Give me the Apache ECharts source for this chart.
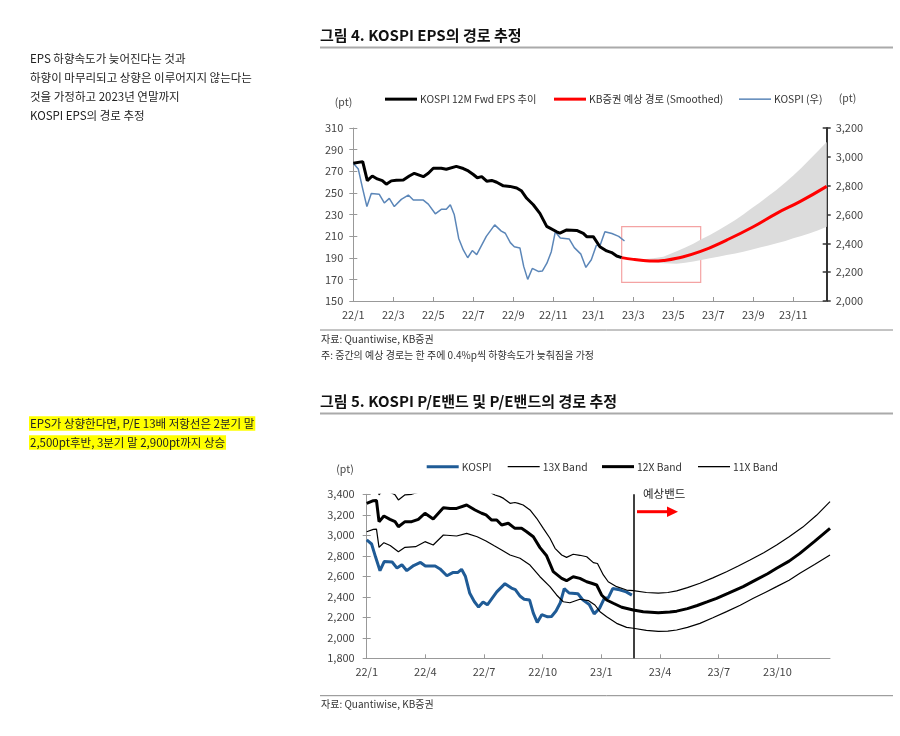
<!DOCTYPE html>
<html><head><meta charset="utf-8">
<script src="https://cdn.jsdelivr.net/npm/echarts@6/dist/echarts.min.js"></script>
<style>html,body{margin:0;padding:0;background:#fff}#c{width:900px;height:736px}</style>
</head><body><div id="c"></div>
<script>
const FONT = '"Noto Sans CJK KR", "Noto Sans", sans-serif';

// ---------- Figure 4 data (x = months since 2022/1) ----------
const epsActual = [
 [0,277.4],[0.47,278.9],[0.7,261.3],[0.95,265.6],[1.2,262.9],[1.45,261.3],[1.65,258],[1.9,261.1],
 [2.15,261.7],[2.5,262],[2.8,265.6],[3.05,268.1],[3.5,265],[3.75,268.1],[4.0,272.8],[4.4,272.8],
 [4.65,271.8],[5.15,274.5],[5.5,272.5],[5.75,270.3],[6.0,267],[6.2,264],[6.42,265],[6.67,260.8],
 [6.92,261.5],[7.17,259.8],[7.5,256.5],[7.83,256],[8.17,254.5],[8.4,252],[8.67,245],[9.0,239],
 [9.33,231],[9.5,225],[9.67,219],[10.17,214],[10.33,212.8],[10.67,215.7],[11.17,215.3],[11.5,212.6],
 [11.67,209.5],[12.0,209.5],[12.33,200.2],[12.67,196.3],[12.92,194.8],[13.17,191.6],[13.42,190.1]
];
const epsPath = [
 [13.42,190.1],[14.0,188.5],[14.5,187.5],[15.0,187],[15.5,187.5],[16.17,189.5],[17.33,195.6],
 [18.67,206.4],[20.0,218.7],[21.17,231.1],[22.33,241.9],[23.67,256]
];
const epsBandLower = [
 [13.42,190.1],[14.0,188.3],[14.5,187],[15.0,185.8],[15.5,185],[16.17,184.5],[16.6,185.3],[17.0,186.5],
 [17.4,188],[17.83,189.5],[18.25,191],[18.67,192.5],[19.1,194],[19.5,195.6],[19.9,197.5],[20.33,199.5],
 [20.75,201.4],[21.17,203.4],[21.6,205.6],[22.0,208],[22.4,210.2],[22.83,212.6],[23.25,215.5],[23.67,218.7]
];
const epsBandUpper = [
 [13.42,190.1],[14.0,189],[14.5,188.7],[15.0,189.5],[15.5,191],[16.17,196],[16.6,199.5],[17.0,203],
 [17.4,207],[17.83,211],[18.25,215.5],[18.67,220],[19.1,225],[19.5,230],[19.9,235.5],[20.33,241],
 [20.75,247],[21.17,253],[21.6,259.5],[22.0,266],[22.4,273],[22.83,281],[23.25,289],[23.67,297]
];
const forecastBox = [[13.42,218.7],[17.37,167.3]];

// KOSPI index (shared by both figures)
const kospi = [
 [0,2955],[0.25,2915],[0.45,2790],[0.68,2655],[0.9,2745],[1.3,2740],[1.55,2680],[1.8,2712],
 [2.05,2655],[2.4,2705],[2.75,2735],[3.0,2700],[3.5,2700],[3.75,2672],[4.1,2605],[4.4,2636],
 [4.65,2636],[4.85,2668],[5.05,2598],[5.27,2434],[5.5,2354],[5.72,2300],[5.95,2350],[6.17,2322],
 [6.65,2448],[7.07,2528],[7.4,2485],[7.6,2470],[7.85,2405],[8.05,2376],[8.33,2368],[8.52,2240],
 [8.72,2150],[8.95,2226],[9.25,2205],[9.45,2208],[9.68,2262],[9.9,2342],[10.1,2480],[10.35,2437],
 [10.8,2430],[11.05,2370],[11.38,2325],[11.63,2233],[11.9,2286],[12.15,2385],[12.35,2390],
 [12.58,2480],[12.93,2468],[13.27,2448],[13.56,2416]
];

// ---------- Figure 5 data ----------
const pe13 = [
 [0,3590],[0.34,3615],[0.5,3620],[0.63,3395],[0.88,3450],[1.19,3420],[1.45,3395],[1.62,3345],
 [1.96,3395],[2.3,3400],[2.64,3420],[2.98,3480],[3.4,3420],[3.92,3540],[4.26,3530],[4.6,3530],
 [5.11,3570],[5.54,3520],[5.88,3480],[6.1,3465],[6.39,3410],[6.56,3393],[6.82,3377],[7.0,3360],
 [7.33,3312],[7.58,3320],[7.75,3312],[8.0,3296],[8.35,3247],[8.69,3166],[9.03,3068],[9.37,2971],
 [9.63,2873],[9.97,2808],[10.22,2785],[10.56,2815],[10.9,2805],[11.25,2791],[11.59,2733],[11.8,2725],
 [12.1,2613],[12.35,2547],[12.78,2499],[13.29,2466],[13.63,2460],[14.3,2442],[14.91,2436],[15.4,2442],
 [15.85,2458],[16.4,2490],[17.04,2532],[17.7,2585],[18.4,2645],[19.0,2700],[19.6,2759],[20.3,2830],
 [20.96,2905],[21.6,2985],[22.3,3080],[23.0,3195],[23.69,3328]
];
const pe12 = [
 [0,3312],[0.34,3338],[0.5,3340],[0.63,3133],[0.88,3188],[1.19,3156],[1.45,3133],[1.62,3084],
 [1.96,3133],[2.3,3133],[2.64,3156],[2.98,3215],[3.4,3159],[3.92,3269],[4.26,3262],[4.6,3262],
 [5.11,3296],[5.54,3247],[5.88,3215],[6.1,3199],[6.39,3149],[6.65,3150],[6.9,3100],[7.24,3117],
 [7.58,3068],[7.92,3068],[8.18,3035],[8.52,2986],[8.86,2880],[9.2,2800],[9.54,2645],[9.97,2580],
 [10.22,2557],[10.56,2596],[10.9,2580],[11.25,2547],[11.5,2532],[11.76,2515],[12.01,2418],
 [12.27,2369],[12.61,2337],[13.04,2298],[13.63,2271],[14.14,2255],[14.91,2245],[15.5,2252],
 [15.85,2260],[16.4,2285],[16.9,2315],[17.4,2350],[17.89,2385],[18.5,2435],[19.25,2499],[19.9,2565],
 [20.5,2625],[20.96,2678],[21.6,2748],[22.15,2824],[22.9,2940],[23.69,3068]
];
const pe11 = [
 [0,3035],[0.34,3058],[0.5,3060],[0.63,2883],[0.88,2928],[1.2,2900],[1.62,2840],[1.96,2883],
 [2.5,2889],[2.98,2938],[3.4,2905],[3.92,3003],[4.6,2993],[5.11,3019],[5.65,2986],[6.1,2944],
 [6.5,2900],[6.9,2857],[7.33,2808],[7.84,2776],[8.35,2710],[8.86,2596],[9.37,2499],[9.71,2418],
 [10.05,2352],[10.39,2342],[10.9,2376],[11.33,2363],[11.67,2320],[11.93,2255],[12.27,2206],
 [12.78,2141],[13.29,2102],[13.63,2093],[14.3,2072],[14.91,2062],[15.4,2065],[15.85,2076],[16.4,2102],
 [17.04,2141],[17.7,2195],[18.4,2255],[19.1,2318],[19.77,2385],[20.4,2445],[20.96,2499],[21.6,2562],
 [22.15,2629],[22.9,2715],[23.69,2808]
];
const bandStartMonth = 13.63;

// axis tick settings
const epsAxis = {min:150, max:310, interval:20};
const kospiAxisTop = {min:2000, max:3200, interval:200};
const kospiAxisBottom = {min:1800, max:3400, interval:200};

function monthLabel(v){
  const m = Math.round(v);
  return (22 + Math.floor(m/12)) + '/' + (m % 12 + 1);
}
function comma(v){ return Number(v).toLocaleString('en-US'); }

const labelStyle = {color:'#444', fontSize:11, fontFamily:FONT};
const txt = (x,y,text,extra) => Object.assign({type:'text', x:x, y:y, silent:true,
  style:Object.assign({text:text, font:'11.5px '+FONT, fill:'#222', verticalAlign:'middle'}, (extra||{}))});
const hline = (x1,x2,y,color,w) => ({type:'line', silent:true, shape:{x1:x1,y1:y,x2:x2,y2:y}, style:{stroke:color, lineWidth:w}});

function lg(name, left, top, h){
  return {data:[name], left:left, top:top, itemWidth:32, itemHeight:h, icon:'rect', itemGap:0,
    selectedMode:false, textStyle:{color:'#333', fontSize:10.3, fontFamily:FONT, padding:[0,0,0,-2]}};
}

const chart = echarts.init(document.getElementById('c'), null, {renderer:'canvas'});
chart.setOption({
  animation:false,
  backgroundColor:'#fff',
  textStyle:{fontFamily:FONT},
  legend:[
    lg('KOSPI 12M Fwd EPS 추이', 380, 89, 3),
    lg('KB증권 예상 경로 (Smoothed)', 549, 89, 3),
    lg('KOSPI (우)', 734, 89, 1.5),
    lg('KOSPI', 421.7, 456.5, 3),
    lg('13X Band', 502.7, 456.5, 1.3),
    lg('12X Band', 597, 456.5, 3),
    lg('11X Band', 693, 456.5, 1.3)
  ],
  grid:[
    {left:353.3, top:128, width:473.4, height:173},
    {left:366.7, top:494.3, width:463.3, height:164}
  ],
  xAxis:[
    {gridIndex:0, type:'value', min:0, max:23.67, interval:2,
     axisLine:{lineStyle:{color:'#999'}}, axisTick:{inside:true, length:4, lineStyle:{color:'#999'}},
     axisLabel:Object.assign({margin:8, formatter:monthLabel, showMaxLabel:false}, labelStyle),
     splitLine:{show:false}},
    {gridIndex:1, type:'value', min:0, max:23.69, interval:3,
     axisLine:{lineStyle:{color:'#999'}}, axisTick:{inside:true, length:4, lineStyle:{color:'#999'}},
     axisLabel:Object.assign({margin:8, formatter:monthLabel, showMaxLabel:false}, labelStyle),
     splitLine:{show:false}}
  ],
  yAxis:[
    Object.assign({gridIndex:0, type:'value', position:'left',
     axisLine:{show:true, lineStyle:{color:'#999'}}, axisTick:{show:true, length:4, lineStyle:{color:'#999'}},
     axisLabel:Object.assign({margin:10}, labelStyle), splitLine:{show:false}}, epsAxis),
    Object.assign({gridIndex:0, type:'value', position:'right',
     axisLine:{show:true, lineStyle:{color:'#333', width:2}}, axisTick:{show:true, length:4, lineStyle:{color:'#333', width:1.5}},
     axisLabel:Object.assign({margin:9, formatter:comma}, labelStyle), splitLine:{show:false}}, kospiAxisTop),
    Object.assign({gridIndex:0, type:'value', position:'left',
     axisLine:{show:false}, axisTick:{show:true, inside:true, length:4, lineStyle:{color:'#999'}},
     axisLabel:{show:false}, splitLine:{show:false}}, epsAxis),
    Object.assign({gridIndex:0, type:'value', position:'right',
     axisLine:{show:false}, axisTick:{show:true, inside:true, length:4, lineStyle:{color:'#333', width:1.5}},
     axisLabel:{show:false}, splitLine:{show:false}}, kospiAxisTop),
    Object.assign({gridIndex:1, type:'value', position:'left',
     axisLine:{show:true, lineStyle:{color:'#999'}}, axisTick:{show:true, length:4, lineStyle:{color:'#999'}},
     axisLabel:Object.assign({margin:12, formatter:comma}, labelStyle), splitLine:{show:false}}, kospiAxisBottom),
    Object.assign({gridIndex:1, type:'value', position:'left',
     axisLine:{show:false}, axisTick:{show:true, inside:true, length:4, lineStyle:{color:'#999'}},
     axisLabel:{show:false}, splitLine:{show:false}}, kospiAxisBottom)
  ],
  series:[
    {name:'band', type:'custom', xAxisIndex:0, yAxisIndex:0, silent:true, z:1,
     data:[epsBandUpper[0]], encode:{x:0, y:1},
     renderItem:function(params, api){
       const pts = epsBandUpper.map(p => api.coord(p))
         .concat(epsBandLower.slice().reverse().map(p => api.coord(p)));
       return {type:'polygon', shape:{points:pts}, style:{fill:'#dcdcdc'}};
     }},
    {name:'KOSPI (우)', type:'line', xAxisIndex:0, yAxisIndex:1, data:kospi, symbol:'none',
     itemStyle:{color:'#5b86b8'}, lineStyle:{color:'#5b86b8', width:1.5}, z:3},
    {name:'KOSPI 12M Fwd EPS 추이', type:'line', xAxisIndex:0, yAxisIndex:0, data:epsActual, symbol:'none',
     itemStyle:{color:'#000'}, lineStyle:{color:'#000', width:3}, z:4},
    {name:'KB증권 예상 경로 (Smoothed)', type:'line', xAxisIndex:0, yAxisIndex:0, data:epsPath, symbol:'none',
     smooth:true, itemStyle:{color:'#ff0000'}, lineStyle:{color:'#ff0000', width:3}, z:5,
     markArea:{silent:true, itemStyle:{color:'rgba(0,0,0,0)', borderColor:'#f4a3a3', borderWidth:1.2},
       data:[[{coord:forecastBox[0]},{coord:forecastBox[1]}]]}},

    {name:'KOSPI', type:'line', xAxisIndex:1, yAxisIndex:4, data:kospi, symbol:'none',
     itemStyle:{color:'#1f5b96'}, lineStyle:{color:'#1f5b96', width:3}, z:3},
    {name:'13X Band', type:'line', xAxisIndex:1, yAxisIndex:4, data:pe13, symbol:'none',
     itemStyle:{color:'#000'}, lineStyle:{color:'#000', width:1.2}, z:4},
    {name:'12X Band', type:'line', xAxisIndex:1, yAxisIndex:4, data:pe12, symbol:'none',
     itemStyle:{color:'#000'}, lineStyle:{color:'#000', width:3}, z:4,
     markLine:{silent:true, symbol:'none', label:{show:false}, lineStyle:{color:'#000', width:1.5, type:'solid'},
       data:[{xAxis:bandStartMonth}]}},
    {name:'11X Band', type:'line', xAxisIndex:1, yAxisIndex:4, data:pe11, symbol:'none',
     itemStyle:{color:'#000'}, lineStyle:{color:'#000', width:1.2}, z:4}
  ],
  graphic:[
    txt(320, 35, '그림 4. KOSPI EPS의 경로 추정', {font:'bold 15px '+FONT, fill:'#111'}),
    hline(320, 893, 47.5, '#aaa', 2),
    txt(343.5, 102.5, '(pt)', {font:'10.5px '+FONT, fill:'#444', align:'center'}),
    txt(847.5, 98, '(pt)', {font:'10.5px '+FONT, fill:'#444', align:'center'}),
    hline(320, 893, 330, '#888', 1),
    txt(321, 339.5, '자료: Quantiwise, KB증권', {font:'10px '+FONT, fill:'#333'}),
    txt(321, 355, '주: 중간의 예상 경로는 한 주에 0.4%p씩 하향속도가 늦춰짐을 가정', {font:'10px '+FONT, fill:'#333'}),

    txt(320, 401, '그림 5. KOSPI P/E밴드 및 P/E밴드의 경로 추정', {font:'bold 15px '+FONT, fill:'#111'}),
    hline(320, 893, 413.5, '#aaa', 2),
    txt(345, 469, '(pt)', {font:'10.5px '+FONT, fill:'#444', align:'center'}),
    txt(643, 493.5, '예상밴드', {font:'11.5px '+FONT, fill:'#222'}),
    {type:'line', silent:true, shape:{x1:637, y1:511.7, x2:669, y2:511.7}, style:{stroke:'#ff0000', lineWidth:3}},
    {type:'polygon', silent:true, shape:{points:[[667,506.5],[678,511.7],[667,517]]}, style:{fill:'#ff0000'}},
    hline(320, 893, 695.7, '#888', 1),
    txt(321, 704.5, '자료: Quantiwise, KB증권', {font:'10px '+FONT, fill:'#333'}),

    txt(30, 58.5, 'EPS 하향속도가 늦어진다는 것과'),
    txt(30, 77.5, '하향이 마무리되고 상향은 이루어지지 않는다는'),
    txt(30, 96.5, '것을 가정하고 2023년 연말까지'),
    txt(30, 116, 'KOSPI EPS의 경로 추정'),
    txt(29, 423.5, 'EPS가 상향한다면, P/E 13배 저항선은 2분기 말', {backgroundColor:'#ffff00', padding:[2,1,1,1]}),
    txt(29, 442.5, '2,500pt후반, 3분기 말 2,900pt까지 상승', {backgroundColor:'#ffff00', padding:[2,1,1,1]})
  ]
});
</script></body></html>
